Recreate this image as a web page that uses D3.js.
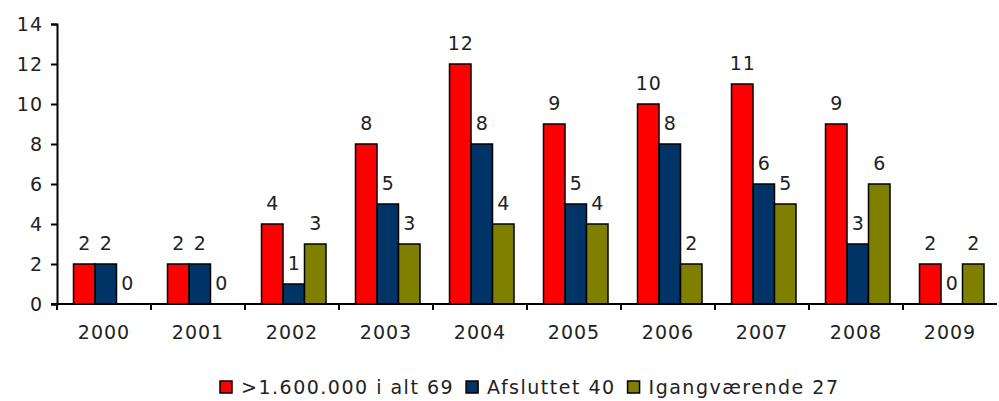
<!DOCTYPE html>
<html>
<head>
<meta charset="utf-8">
<script src="https://cdn.jsdelivr.net/npm/d3@7"></script>
<style>
body { margin: 0; background: #fff; }
text { font-family: Verdana, "DejaVu Sans", sans-serif; fill: #222; letter-spacing: 1px; }
</style>
</head>
<body>
<svg id="chart" width="999" height="401"></svg>
<script>
// data
var years = ["2000","2001","2002","2003","2004","2005","2006","2007","2008","2009"];
var total = [2,2,4,8,12,9,10,11,9,2];
var done = [2,2,1,5,8,5,8,6,3,0];
var ongoing = [0,0,3,3,4,4,2,5,6,2];
var seriesNames = [">1.600.000 i alt 69", "Afsluttet 40", "Igangværende 27"];
var colors = ["#ff0000", "#003366", "#808000"];
var yTicks = [0,2,4,6,8,10,12,14];

var series = [total, done, ongoing];
var fs = 19;

var svg = d3.select("#chart");
var mLeft = 57, mRight = 997, mTop = 24, mBottom = 304;

var x = d3.scaleBand().domain(years).range([mLeft, mRight]).padding(0);
var inner = d3.scaleBand().domain([0,1,2]).range([16.5, 81]).padding(0);
var y = d3.scaleLinear().domain([0,14]).range([mBottom, mTop]);

// bars first, axes on top
series.forEach(function(vals, s) {
    var g = svg.append("g");
    g.selectAll("rect").data(vals).enter().append("rect")
        .attr("x", function(d, i){ return x(years[i]) + inner(s); })
        .attr("width", inner.bandwidth())
        .attr("y", function(d){ return y(d); })
        .attr("height", function(d){ return mBottom - y(d); })
        .attr("display", function(d){ return d > 0 ? null : "none"; })
        .attr("fill", colors[s]).attr("stroke", "#000").attr("stroke-width", 1.5);
    g.selectAll("text").data(vals).enter().append("text")
        .attr("x", function(d, i){ return x(years[i]) + inner(s) + inner.bandwidth() / 2 + 0.5; })
        .attr("y", function(d){ return y(d) - 14; })
        .attr("text-anchor", "middle").style("font-size", fs + "px")
        .text(function(d){ return d; });
});

var yAxis = d3.axisLeft(y).tickValues(yTicks).tickSizeOuter(0).tickSize(6).tickPadding(8);
var gy = svg.append("g").attr("transform", "translate(" + mLeft + ",0)").call(yAxis);
gy.selectAll("text").style("font-size", fs + "px").attr("fill", "#222");
gy.selectAll(".domain").attr("stroke", "#000").attr("stroke-width", 2);
gy.selectAll(".tick line").attr("stroke", "#000").attr("stroke-width", 2);

var gx = svg.append("g").attr("transform", "translate(0," + mBottom + ")");
gx.append("line").attr("x1", mLeft - 6).attr("x2", mRight).attr("stroke", "#000").attr("stroke-width", 2);
gx.selectAll(".tk").data(years).enter().append("line")
    .attr("x1", function(d){ return x(d); }).attr("x2", function(d){ return x(d); })
    .attr("y1", 0).attr("y2", 6).attr("stroke", "#000").attr("stroke-width", 2);
gx.selectAll(".lb").data(years).enter().append("text")
    .attr("x", function(d){ return x(d) + x.bandwidth() / 2; })
    .attr("y", 35).attr("text-anchor", "middle").style("font-size", fs + "px")
    .text(function(d){ return d; });

// legend
var leg = svg.append("g").attr("transform", "translate(220,394)");
var lx = 0;
seriesNames.forEach(function(n, i) {
    leg.append("rect").attr("x", lx).attr("y", -13).attr("width", 12).attr("height", 12)
        .attr("fill", colors[i]).attr("stroke", "#000").attr("stroke-width", 1.5);
    var t = leg.append("text").attr("x", lx + 21).attr("y", 0)
        .style("font-size", fs + "px").style("letter-spacing", "1.5px").text(n);
    lx += 21 + t.node().getComputedTextLength() + 12;
});
</script>
</body>
</html>
